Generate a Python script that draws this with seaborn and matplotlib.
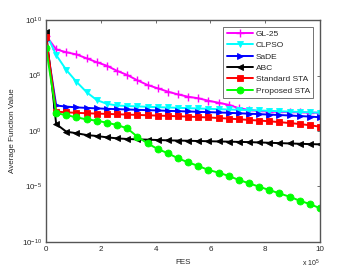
import numpy as np
import matplotlib
matplotlib.use("Agg")
import matplotlib.pyplot as plt
import seaborn as sns

# FES sample points (in units of 1e5)
fes = np.linspace(0, 10, 28)

# log10 of the average function value
gl25 = [8.6, 7.35, 7.1, 6.9, 6.55, 6.2, 5.88, 5.42, 5.05, 4.57, 4.15, 3.85, 3.55, 3.3,
        3.09, 2.95, 2.73, 2.55, 2.36, 2.06, 1.9, 1.8, 1.75, 1.72, 1.7, 1.68, 1.66, 1.64]
clpso = [8.8, 6.85, 5.5, 4.44, 3.5, 2.79, 2.45, 2.3, 2.25, 2.22, 2.18, 2.15, 2.12, 2.09,
         2.06, 2.03, 2.0, 1.97, 1.94, 1.91, 1.88, 1.85, 1.82, 1.78, 1.75, 1.72, 1.68, 1.65]
sade = [8.2, 2.3, 2.2, 2.13, 2.08, 2.04, 2.0, 1.97, 1.94, 1.91, 1.88, 1.85, 1.82, 1.79,
        1.76, 1.73, 1.7, 1.67, 1.64, 1.6, 1.56, 1.52, 1.48, 1.44, 1.4, 1.35, 1.3, 1.24]
abc = [8.95, 0.63, -0.06, -0.2, -0.36, -0.45, -0.57, -0.66, -0.72, -0.75, -0.78, -0.81,
       -0.84, -0.86, -0.88, -0.9, -0.92, -0.94, -0.96, -0.98, -1.0, -1.03, -1.06, -1.09,
       -1.12, -1.15, -1.18, -1.2]
std_sta = [8.5, 1.75, 1.68, 1.64, 1.6, 1.57, 1.54, 1.51, 1.48, 1.45, 1.42, 1.39, 1.36,
           1.33, 1.3, 1.26, 1.22, 1.17, 1.12, 1.06, 1.0, 0.94, 0.88, 0.8, 0.72, 0.63,
           0.52, 0.39]
prop_sta = [7.5, 1.6, 1.44, 1.23, 1.05, 0.93, 0.75, 0.54, 0.24, -0.51, -1.11, -1.62,
            -2.0, -2.46, -2.82, -3.15, -3.51, -3.75, -4.05, -4.41, -4.71, -5.02, -5.32,
            -5.62, -5.92, -6.28, -6.58, -6.96]

series = [
    ("GL-25", gl25, "#FF00FF", "+"),
    ("CLPSO", clpso, "#00FFFF", "v"),
    ("SaDE", sade, "#0000FF", ">"),
    ("ABC", abc, "#000000", "<"),
    ("Standard STA", std_sta, "#FF0000", "s"),
    ("Proposed STA", prop_sta, "#00FF00", "o"),
]

sns.set_style("white")
plt.rcParams["font.family"] = ["Liberation Sans", "DejaVu Sans"]
plt.rcParams["mathtext.fontset"] = "custom"
plt.rcParams["mathtext.rm"] = "Liberation Sans"

fig = plt.figure(figsize=(3.54, 2.73), dpi=100)
ax = fig.add_axes([0.13, 0.1136, 0.774, 0.813])

for name, vals, color, mk in series:
    sns.lineplot(x=fes, y=10 ** np.array(vals), ax=ax, color=color, marker=mk,
                 markersize=5 if mk != "+" else 5.5, markeredgewidth=1 if mk == "+" else 0.6,
                 markeredgecolor=color, linewidth=1.4, label=name)

ax.set_yscale("log")
ax.set_xlim(0, 10)
ax.set_ylim(1e-10, 1e10)
ax.set_yticks([1e-10, 1e-5, 1e0, 1e5, 1e10])
ax.yaxis.set_minor_locator(matplotlib.ticker.NullLocator())
ax.set_xticks([0, 2, 4, 6, 8, 10])

for s in ax.spines.values():
    s.set_color("#555555")
    s.set_linewidth(1.0)
ax.tick_params(direction="in", length=2.5, width=0.6, color="#555555",
               labelsize=5.8, top=True, right=True, pad=3)

ax.set_xlabel("FES", fontsize=5.8, labelpad=4)
ax.set_ylabel("Average Function Value", fontsize=5.8, labelpad=4)
ax.text(1.0, -0.072, r"x 10$^5$", transform=ax.transAxes, fontsize=5, ha="right", va="top")

leg = ax.legend(loc="upper right", fontsize=6, frameon=True, fancybox=False,
                edgecolor="#333333", handlelength=3.2, borderaxespad=0.8,
                labelspacing=0.42, borderpad=0.4, handletextpad=0.3)
leg.get_frame().set_linewidth(0.6)

fig.savefig("out.png", dpi=100)
